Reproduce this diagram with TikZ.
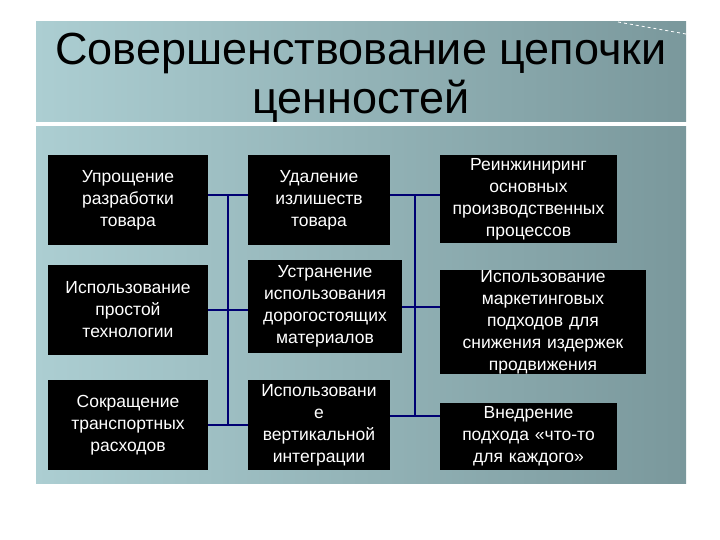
\documentclass[tikz,border=0pt]{standalone}
\usepackage{fontspec}
\setmainfont{Liberation Sans}
\definecolor{bgl}{RGB}{172,206,210}
\definecolor{bgr}{RGB}{122,152,156}
\begin{document}
\begin{tikzpicture}[x=1pt,y=-1pt,
  bx/.style={fill=black,text=white,align=center,inner sep=0pt,font=\fontsize{17.5}{22}\selectfont},
  ln/.style={draw=blue!45!black,line width=1.8pt}]
\useasboundingbox (0,0) rectangle (720,540);
\fill[white] (0,0) rectangle (720,540);
\shade[left color=bgl,right color=bgr] (36,22) rectangle (686,122);
\shade[left color=bgl,right color=bgr] (36,127) rectangle (686,483);
\draw[white,dashed,line width=0.8pt] (618,22) -- (686,34);
\node[font=\fontsize{45}{49}\selectfont,align=center,text=black] (t) at (361,78) {Совершенствование цепочки\\ценностей};
\newcommand\bxat[6]{\node[bx,minimum width=#4-#2,minimum height=#5-#3,text width=#4-#2] (#1) at ({(#2+#4)/2},{(#3+#5)/2}) {#6};}
\bxat{a1}{48}{155}{208}{245}{Упрощение\\разработки\\товара}
\bxat{a2}{48}{265}{208}{355}{Использование\\простой\\технологии}
\bxat{a3}{48}{380}{208}{470}{Сокращение\\транспортных\\расходов}
\bxat{b1}{248}{155}{390}{245}{Удаление\\излишеств\\товара}
\bxat{b2}{248}{260}{402}{353}{Устранение\\использования\\дорогостоящих\\материалов}
\bxat{b3}{248}{380}{390}{470}{Использовани\\е\\вертикальной\\интеграции}
\bxat{c1}{440}{155}{617}{243}{Реинжиниринг\\основных\\производственных\\процессов}
\bxat{c2}{440}{272}{646}{372}{Использование\\маркетинговых\\подходов для\\снижения издержек\\продвижения}
\bxat{c3}{440}{403}{617}{470}{Внедрение\\подхода «что-то\\для каждого»}
\coordinate (v1t) at (228,195); \coordinate (v1b) at (228,425);
\coordinate (v2t) at (415,195); \coordinate (v2b) at (415,416);
\draw[ln] (v1t) -- (v1b);
\draw[ln] (v2t) -- (v2b);
\draw[ln] (a1.east|-v1t) -- (b1.west|-v1t);
\draw[ln] (a2.east|-0,310) -- (b2.west|-0,310);
\draw[ln] (a3.east|-v1b) -- (b3.west|-v1b);
\draw[ln] (b1.east|-v2t) -- (c1.west|-v2t);
\draw[ln] (b2.east|-0,307) -- (c2.west|-0,307);
\draw[ln] (b3.east|-v2b) -- (c3.west|-v2b);
\end{tikzpicture}
\end{document}
